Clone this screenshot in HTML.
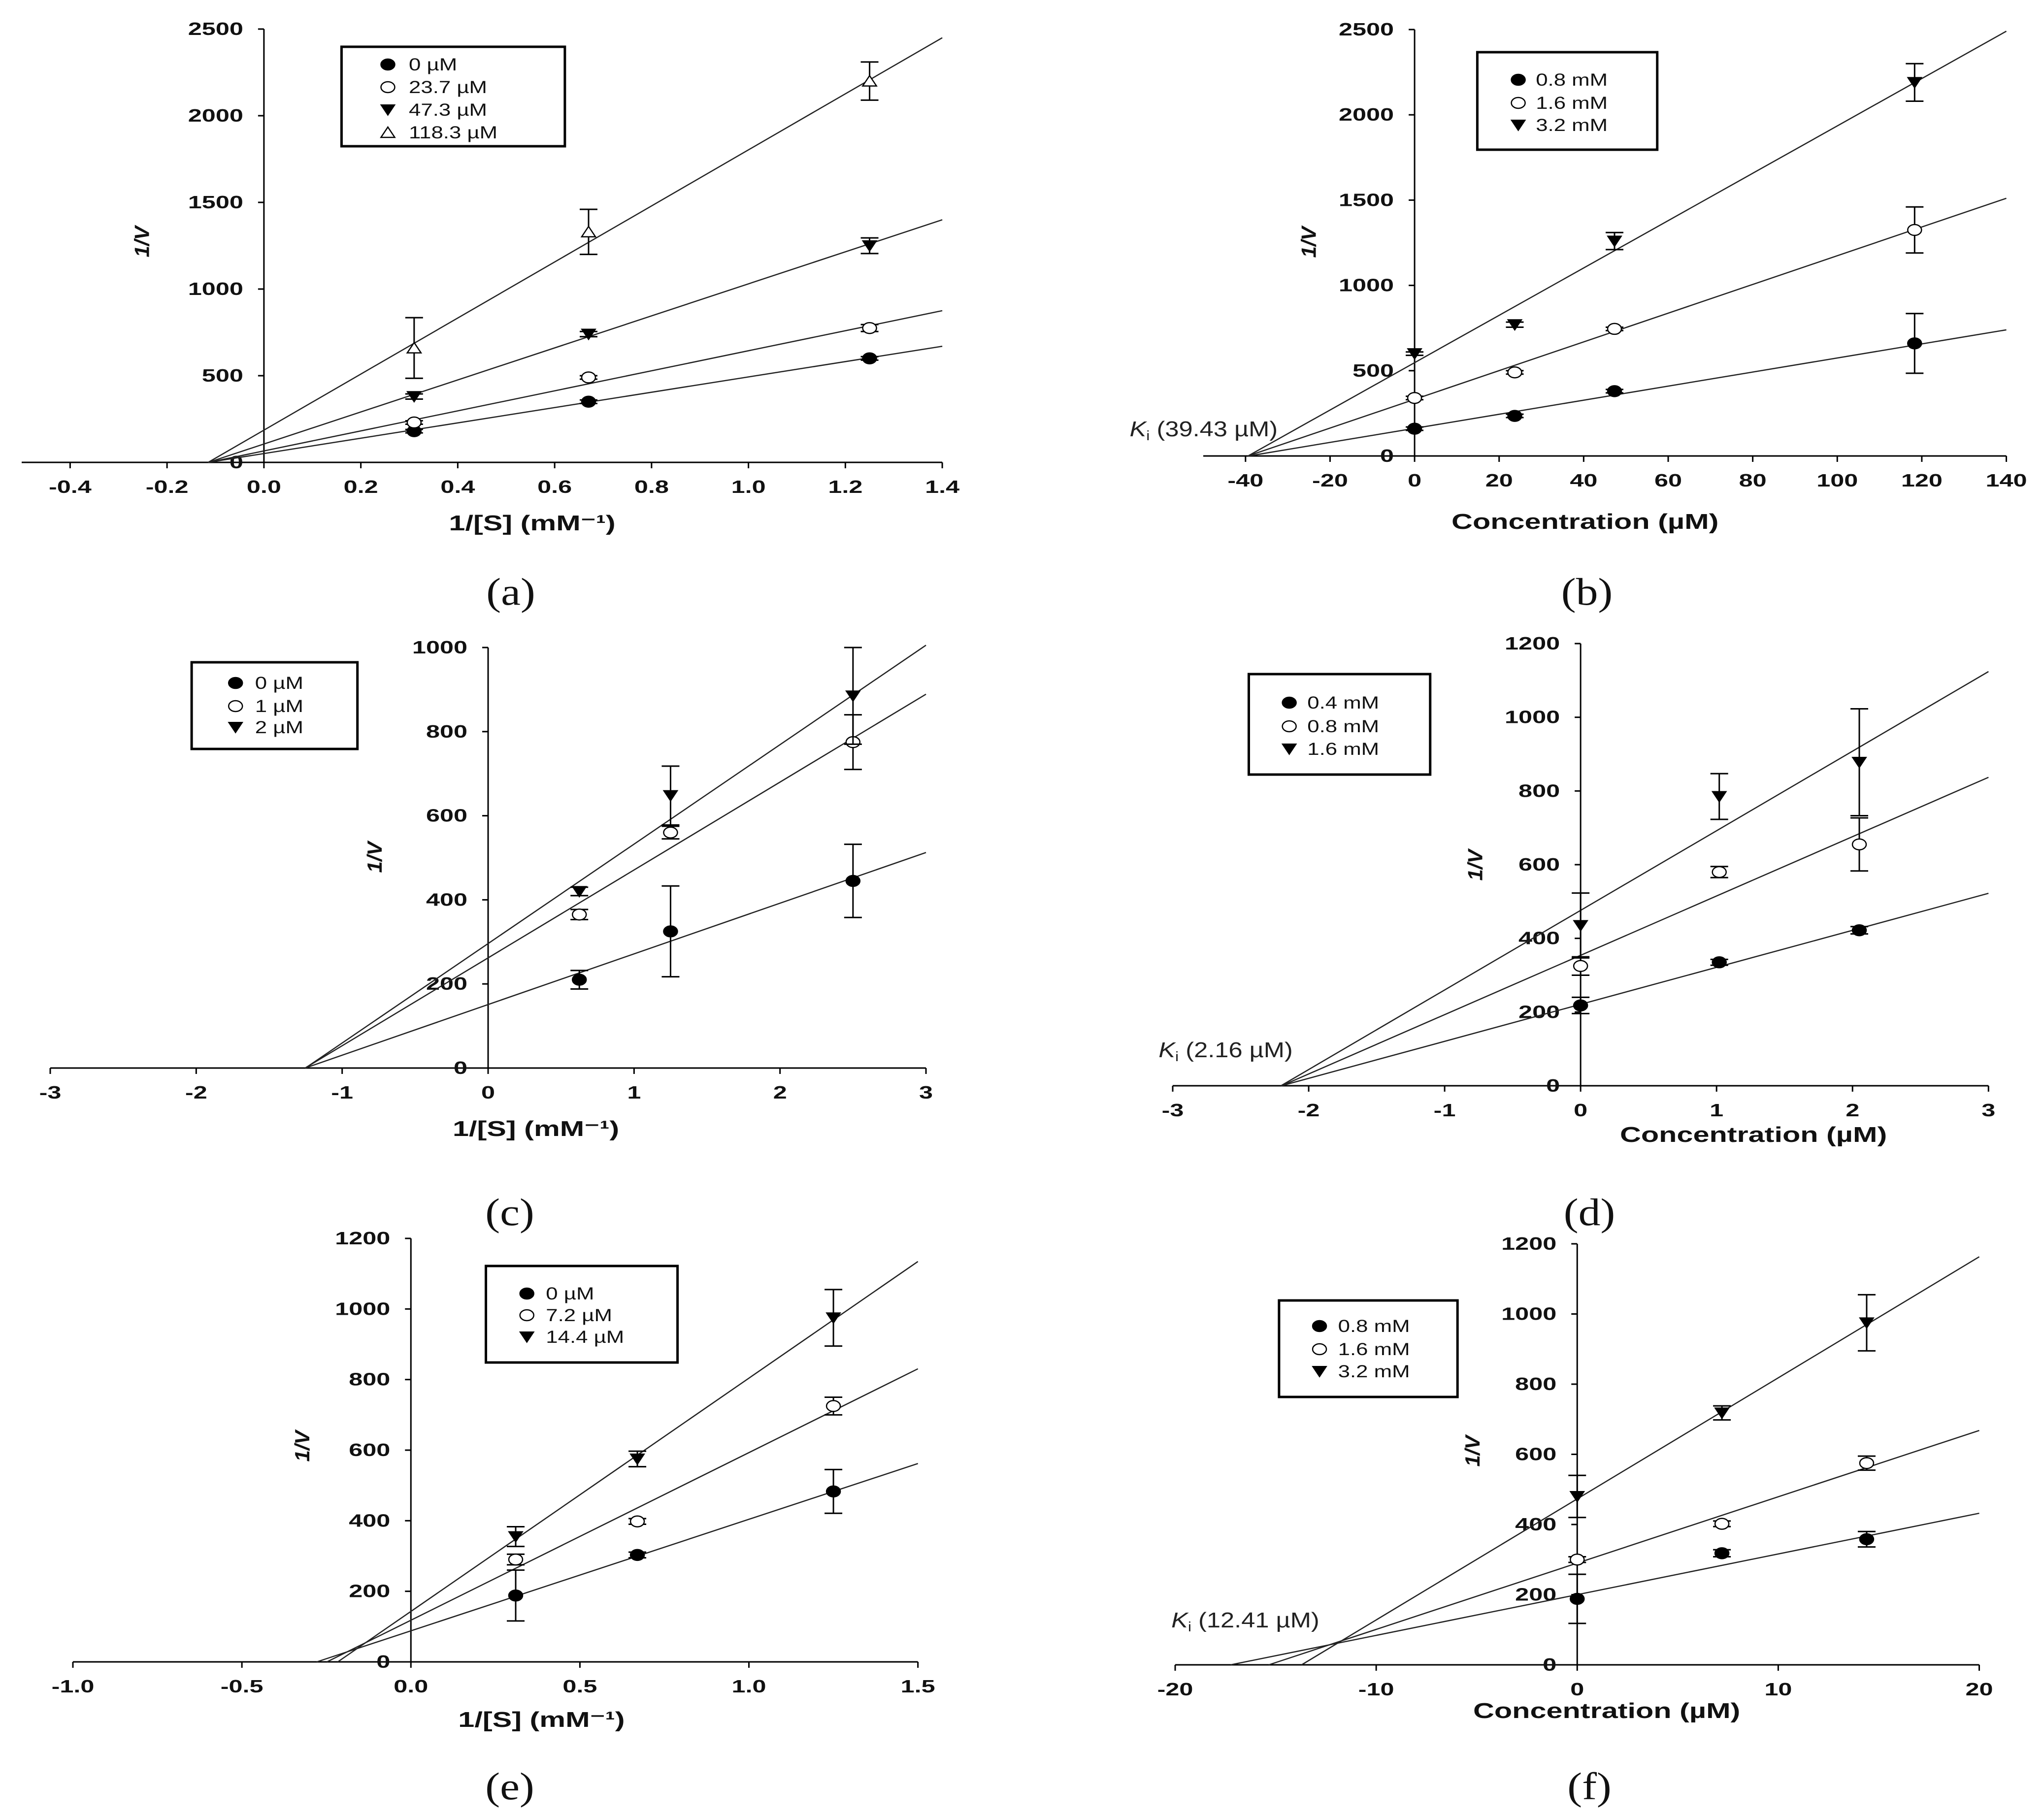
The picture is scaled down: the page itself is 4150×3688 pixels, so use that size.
<!DOCTYPE html>
<html><head><meta charset="utf-8"><title>Lineweaver-Burk and Dixon plots</title>
<style>
html,body{margin:0;padding:0;background:#fff;}
svg{display:block;}
</style></head>
<body>
<svg id="fig" xmlns="http://www.w3.org/2000/svg" width="4150" height="3688" viewBox="0 0 4150 3688"></svg>
<script>
// ===== Panel (a) data =====
const aCats = [0.31, 0.67, 1.25];
const aVals0 = [180, 350, 600];
const aVals1 = [230, 490, 775];
const aVals2 = [380, 740, 1250];
const aVals3 = [660, 1330, 2200];
const aErr0 = [10, 10, 10];
const aErr1 = [10, 10, 20];
const aErr2 = [15, 15, 45];
const aErr3 = [175, 130, 110];
const aSlopes = [442, 578, 924, 1617];
const aIntercepts = [51, 66, 106, 186];
const aLegend = ["0 \u00b5M", "23.7 \u00b5M", "47.3 \u00b5M", "118.3 \u00b5M"];
const aXTicks = [-0.4, -0.2, 0.0, 0.2, 0.4, 0.6, 0.8, 1.0, 1.2, 1.4];
const aXTickLabels = ["-0.4", "-0.2", "0.0", "0.2", "0.4", "0.6", "0.8", "1.0", "1.2", "1.4"];
const aYTicks = [0, 500, 1000, 1500, 2000, 2500];
const aYTickLabels = ["0", "500", "1000", "1500", "2000", "2500"];

// ===== Panel (b) data =====
const bCats = [0, 23.7, 47.3, 118.3];
const bVals0 = [160, 235, 380, 660];
const bVals1 = [340, 490, 745, 1325];
const bVals2 = [600, 770, 1260, 2190];
const bErr0 = [10, 10, 10, 175];
const bErr1 = [10, 10, 10, 135];
const bErr2 = [10, 15, 50, 110];
const bSlopes = [4.125, 8.42, 13.88];
const bIntercepts = [162, 332, 547];
const bLegend = ["0.8 mM", "1.6 mM", "3.2 mM"];
const bXTicks = [-40, -20, 0, 20, 40, 60, 80, 100, 120, 140];
const bXTickLabels = ["-40", "-20", "0", "20", "40", "60", "80", "100", "120", "140"];
const bYTicks = [0, 500, 1000, 1500, 2000, 2500];
const bYTickLabels = ["0", "500", "1000", "1500", "2000", "2500"];

// ===== Panel (c) data =====
const cCats = [0.625, 1.25, 2.5];
const cVals0 = [210, 325, 445];
const cVals1 = [365, 560, 775];
const cVals2 = [420, 648, 885];
const cErr0 = [22, 108, 87];
const cErr1 = [12, 15, 65];
const cErr2 = [10, 70, 115];
const cSlopes = [120.5, 209, 236.5];
const cIntercepts = [151, 262, 296];
const cLegend = ["0 \u00b5M", "1 \u00b5M", "2 \u00b5M"];
const cXTicks = [-3, -2, -1, 0, 1, 2, 3];
const cXTickLabels = ["-3", "-2", "-1", "0", "1", "2", "3"];
const cYTicks = [0, 200, 400, 600, 800, 1000];
const cYTickLabels = ["0", "200", "400", "600", "800", "1000"];

// ===== Panel (d) data =====
const dCats = [0, 1.02, 2.05];
const dVals0 = [218, 335, 422];
const dVals1 = [325, 580, 655];
const dVals2 = [435, 785, 878];
const dErr0 = [22, 8, 10];
const dErr1 = [25, 15, 72];
const dErr2 = [88, 62, 145];
const dSlopes = [100.4, 161, 216];
const dIntercepts = [221, 354, 476];
const dLegend = ["0.4 mM", "0.8 mM", "1.6 mM"];
const dXTicks = [-3, -2, -1, 0, 1, 2, 3];
const dXTickLabels = ["-3", "-2", "-1", "0", "1", "2", "3"];
const dYTicks = [0, 200, 400, 600, 800, 1000, 1200];
const dYTickLabels = ["0", "200", "400", "600", "800", "1000", "1200"];

// ===== Panel (e) data =====
const eCats = [0.31, 0.67, 1.25];
const eVals0 = [188, 303, 483];
const eVals1 = [290, 398, 725];
const eVals2 = [355, 575, 975];
const eErr0 = [72, 8, 62];
const eErr1 = [15, 8, 25];
const eErr2 = [28, 22, 80];
const eSlopes = [316, 475, 661];
const eIntercepts = [88, 118, 143];
const eLegend = ["0 \u00b5M", "7.2 \u00b5M", "14.4 \u00b5M"];
const eXTicks = [-1.0, -0.5, 0.0, 0.5, 1.0, 1.5];
const eXTickLabels = ["-1.0", "-0.5", "0.0", "0.5", "1.0", "1.5"];
const eYTicks = [0, 200, 400, 600, 800, 1000, 1200];
const eYTickLabels = ["0", "200", "400", "600", "800", "1000", "1200"];

// ===== Panel (f) data =====
const fCats = [0, 7.2, 14.4];
const fVals0 = [188, 318, 358];
const fVals1 = [300, 402, 575];
const fVals2 = [480, 718, 975];
const fErr0 = [70, 10, 22];
const fErr1 = [8, 8, 20];
const fErr2 = [60, 20, 80];
const fSlopes = [11.6, 18.9, 34.5];
const fIntercepts = [200, 290, 473];
const fLegend = ["0.8 mM", "1.6 mM", "3.2 mM"];
const fXTicks = [-20, -10, 0, 10, 20];
const fXTickLabels = ["-20", "-10", "0", "10", "20"];
const fYTicks = [0, 200, 400, 600, 800, 1000, 1200];
const fYTickLabels = ["0", "200", "400", "600", "800", "1000", "1200"];

const NS = "http://www.w3.org/2000/svg";
const svg = document.getElementById("fig");

function mk(parent, tag, attrs) {
  const el = document.createElementNS(NS, tag);
  for (const k in attrs) el.setAttribute(k, attrs[k]);
  parent.appendChild(el);
  return el;
}
function txt(parent, x, y, str, size, opts) {
  opts = opts || {};
  const t = document.createElementNS(NS, "text");
  t.setAttribute("transform", "translate(" + x + "," + y + ") scale(" + (opts.sx || 1) + ",1)" + (opts.rot ? " rotate(" + opts.rot + ")" : ""));
  t.setAttribute("font-family", opts.family || '"Liberation Sans", sans-serif');
  t.setAttribute("font-size", size);
  t.setAttribute("font-weight", opts.weight || "normal");
  if (opts.italic) t.setAttribute("font-style", "italic");
  t.setAttribute("text-anchor", opts.anchor || "start");
  t.setAttribute("fill", opts.fill || "#111");
  t.textContent = str;
  parent.appendChild(t);
  return t;
}

function drawMarker(g, type, x, y) {
  let m;
  if (type === "fc" || type === "oc") {
    m = mk(g, "ellipse", {cx: x, cy: y, rx: 14, ry: 11, fill: type === "fc" ? "#000" : "#fff", stroke: "#000", "stroke-width": 2.5});
  } else if (type === "ft") {
    m = mk(g, "polygon", {points: (x - 14) + "," + (y - 10) + " " + (x + 14) + "," + (y - 10) + " " + x + "," + (y + 11), fill: "#000", stroke: "#000", "stroke-width": 2});
  } else {
    m = mk(g, "polygon", {points: (x - 14) + "," + (y + 10) + " " + (x + 14) + "," + (y + 10) + " " + x + "," + (y - 11), fill: "#fff", stroke: "#000", "stroke-width": 2.5});
  }
  return m;
}

const K = 0.99;

function panel(c) {
  const fx = v => c.oxl + (v - c.oxl) * K;
  const dy = c.dy || 0;
  const xl = c.xl, xr = c.xl + (c.xr - c.xl) * K;
  const yb = c.yb + dy, yt = c.yt + dy;
  const g = mk(svg, "g", {});
  
  
  const sx = v => xl + (v - c.xmin) / (c.xmax - c.xmin) * (xr - xl);
  const sy = v => yb - v / c.ymax * (yb - yt);
  const ax0 = sx(0);

  const xa = mk(g, "line", {x1: xl, y1: yb, x2: xr, y2: yb, stroke: "#000", "stroke-width": 3});
  
  
  const ya = mk(g, "line", {x1: ax0, y1: yb, x2: ax0, y2: yt, stroke: "#000", "stroke-width": 3});
  
  

  c.xTicks.forEach((v, i) => {
    const X = sx(v);
    mk(g, "line", {x1: X, y1: yb, x2: X, y2: yb + 12, stroke: "#000", "stroke-width": 3});
    const t = txt(g, X, yb + 62, c.xTickLabels[i], 36, {weight: "bold", anchor: "middle", sx: 1.4});
    
    
  });
  c.yTicks.forEach((v, i) => {
    const Y = sy(v);
    mk(g, "line", {x1: ax0 - 12, y1: Y, x2: ax0, y2: Y, stroke: "#000", "stroke-width": 3});
    const t = txt(g, ax0 - 42, Y + 12, c.yTickLabels[i], 36, {weight: "bold", anchor: "end", sx: 1.4});
    
    
  });

  c.slopes.forEach((m, i) => {
    const b = c.intercepts[i];
    const x0 = -b / m;
    const ln = mk(g, "line", {x1: sx(x0), y1: sy(0), x2: sx(c.xmax), y2: sy(m * c.xmax + b), stroke: "#222", "stroke-width": 2.5});
    
    
  });

  c.series.forEach((vals, si) => {
    const errs = c.errs[si];
    vals.forEach((v, k) => {
      const X = sx(c.cats[k]);
      const e = errs[k];
      const eb = mk(g, "path", {d: "M" + X + "," + sy(v - e) + "V" + sy(v + e) + "M" + (X - 18) + "," + sy(v + e) + "H" + (X + 18) + "M" + (X - 18) + "," + sy(v - e) + "H" + (X + 18), stroke: "#000", "stroke-width": 3, fill: "none"});
      
      
      const mm = drawMarker(g, c.markers[si], X, sy(v));
      
      
    });
  });

  const L = c.legend;
  const lg = mk(g, "g", {});
  
  
  mk(lg, "rect", {x: fx(L.x), y: L.y + dy, width: L.w * K, height: L.h, fill: "#fff", stroke: "#000", "stroke-width": 5});
  c.legendLabels.forEach((lab, i) => {
    const Y = L.items[i] + dy;
    drawMarker(lg, c.markers[i], fx(L.mx), Y);
    const t = txt(lg, fx(L.tx), Y + 12, lab, 35, {sx: 1.25});
    
    
  });

  const xt = txt(g, fx(c.xTitle[1]), c.xTitle[2] + dy, c.xTitle[0], 44, {weight: "bold", anchor: "middle", sx: 1.35});
  
  
  const yt2 = txt(g, fx(c.yTitle[0]), c.yTitle[1] + dy, "1/V", 42, {weight: "bold", italic: true, anchor: "middle", rot: -90});
  
  
  const pl = txt(g, c.letter[1], c.letter[2], c.letter[0], 78, {family: '"Liberation Serif", serif', anchor: "middle", sx: 1.15});
  
  
  if (c.ki) {
    const kt = document.createElementNS(NS, "text");
    kt.setAttribute("transform", "translate(" + fx(c.ki[1]) + "," + (c.ki[2] + dy) + ") scale(1.15,1)");
    kt.setAttribute("font-family", '"Liberation Sans", sans-serif');
    kt.setAttribute("font-size", 44);
    kt.setAttribute("fill", "#222");
    const k1 = document.createElementNS(NS, "tspan");
    k1.setAttribute("font-style", "italic");
    k1.textContent = "K";
    const k2 = document.createElementNS(NS, "tspan");
    k2.setAttribute("font-size", 28);
    k2.setAttribute("dy", 8);
    k2.textContent = "i";
    const k3 = document.createElementNS(NS, "tspan");
    k3.setAttribute("dy", -8);
    k3.textContent = " " + c.ki[0];
    kt.appendChild(k1); kt.appendChild(k2); kt.appendChild(k3);
    
    
    g.appendChild(kt);
  }
}

const xS = "1/[S] (mM\u207B\u00B9)";
const xC = "Concentration (\u00b5M)";

panel({id: "a", oxl: 44, dy: -5, xmin: -0.5, xmax: 1.4, ymax: 2500, xl: 44, xr: 1932, yb: 944, yt: 64,
  xTicks: aXTicks, xTickLabels: aXTickLabels, yTicks: aYTicks, yTickLabels: aYTickLabels,
  cats: aCats, series: [aVals0, aVals1, aVals2, aVals3], errs: [aErr0, aErr1, aErr2, aErr3],
  slopes: aSlopes, intercepts: aIntercepts, markers: ["fc", "oc", "ft", "ot"], legendLabels: aLegend,
  legend: {x: 700, y: 100, w: 458, h: 202, mx: 795, tx: 838, items: [136, 182, 228, 274]},
  xTitle: [xS, 1091, 1082], yTitle: [305, 496], letter: ["(a)", 1037, 1228]});

panel({id: "b", oxl: 2447, dy: -4, xmin: -50, xmax: 140, ymax: 2500, xl: 2443, xr: 4090, yb: 930, yt: 64,
  xTicks: bXTicks, xTickLabels: bXTickLabels, yTicks: bYTicks, yTickLabels: bYTickLabels,
  cats: bCats, series: [bVals0, bVals1, bVals2], errs: [bErr0, bErr1, bErr2],
  slopes: bSlopes, intercepts: bIntercepts, markers: ["fc", "oc", "ft"], legendLabels: bLegend,
  legend: {x: 3005, y: 110, w: 369, h: 198, mx: 3089, tx: 3125, items: [166, 213, 258]},
  xTitle: [xC, 3226, 1078], yTitle: [2674, 496], letter: ["(b)", 3222, 1228],
  ki: ["(39.43 \u00b5M)", 2292, 890]});

panel({id: "c", oxl: 103, dy: -5, xmin: -3, xmax: 3, ymax: 1000, xl: 102, xr: 1898, yb: 2174, yt: 1320,
  xTicks: cXTicks, xTickLabels: cXTickLabels, yTicks: cYTicks, yTickLabels: cYTickLabels,
  cats: cCats, series: [cVals0, cVals1, cVals2], errs: [cErr0, cErr1, cErr2],
  slopes: cSlopes, intercepts: cIntercepts, markers: ["fc", "oc", "ft"], legendLabels: cLegend,
  legend: {x: 392, y: 1350, w: 340, h: 176, mx: 482, tx: 522, items: [1392, 1439, 1482]},
  xTitle: [xS, 1098, 2312], yTitle: [782, 1746], letter: ["(c)", 1035, 2488]});

panel({id: "d", oxl: 2383, dy: -5, xmin: -3, xmax: 3, ymax: 1200, xl: 2381, xr: 4054, yb: 2210, yt: 1312,
  xTicks: dXTicks, xTickLabels: dXTickLabels, yTicks: dYTicks, yTickLabels: dYTickLabels,
  cats: dCats, series: [dVals0, dVals1, dVals2], errs: [dErr0, dErr1, dErr2],
  slopes: dSlopes, intercepts: dIntercepts, markers: ["fc", "oc", "ft"], legendLabels: dLegend,
  legend: {x: 2537, y: 1374, w: 372, h: 204, mx: 2620, tx: 2657, items: [1432, 1480, 1526]},
  xTitle: [xC, 3572, 2324], yTitle: [3016, 1762], letter: ["(d)", 3227, 2488],
  ki: ["(2.16 \u00b5M)", 2352, 2152]});

panel({id: "e", oxl: 149, dy: -7, xmin: -1, xmax: 1.5, ymax: 1200, xl: 148, xr: 1881, yb: 3382, yt: 2522,
  xTicks: eXTicks, xTickLabels: eXTickLabels, yTicks: eYTicks, yTickLabels: eYTickLabels,
  cats: eCats, series: [eVals0, eVals1, eVals2], errs: [eErr0, eErr1, eErr2],
  slopes: eSlopes, intercepts: eIntercepts, markers: ["fc", "oc", "ft"], legendLabels: eLegend,
  legend: {x: 995, y: 2578, w: 393, h: 196, mx: 1079, tx: 1118, items: [2634, 2678, 2722]},
  xTitle: [xS, 1109, 3514], yTitle: [633, 2944], letter: ["(e)", 1035, 3654]});

panel({id: "f", oxl: 2387, dy: -9, xmin: -20, xmax: 20, ymax: 1200, xl: 2386, xr: 4035, yb: 3390, yt: 2535,
  xTicks: fXTicks, xTickLabels: fXTickLabels, yTicks: fYTicks, yTickLabels: fYTickLabels,
  cats: fCats, series: [fVals0, fVals1, fVals2], errs: [fErr0, fErr1, fErr2],
  slopes: fSlopes, intercepts: fIntercepts, markers: ["fc", "oc", "ft"], legendLabels: fLegend,
  legend: {x: 2599, y: 2650, w: 366, h: 196, mx: 2682, tx: 2720, items: [2702, 2749, 2794]},
  xTitle: [xC, 3271, 3498], yTitle: [3010, 2956], letter: ["(f)", 3227, 3654],
  ki: ["(12.41 \u00b5M)", 2378, 3314]});
</script>
</body></html>
